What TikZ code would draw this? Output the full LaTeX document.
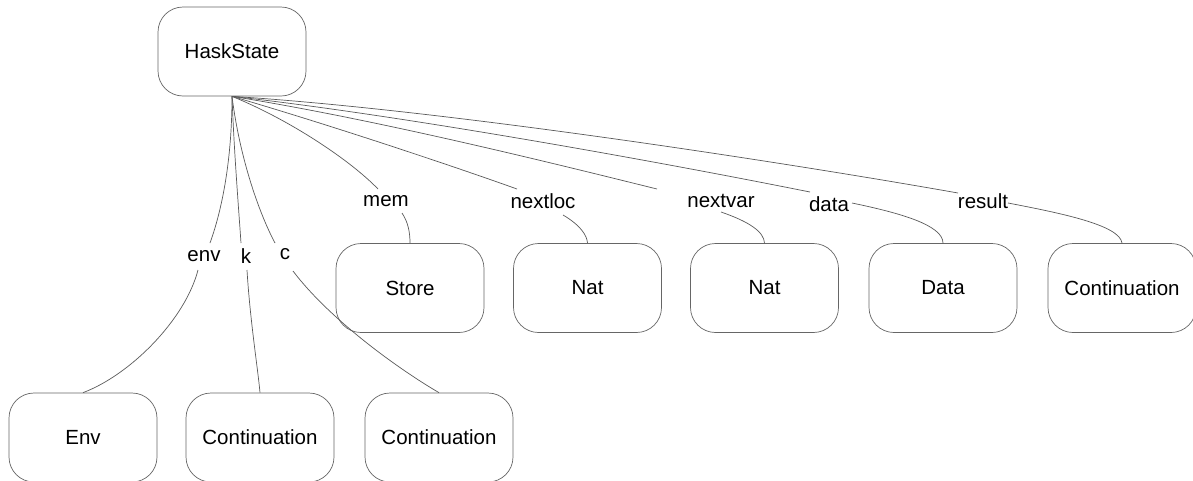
\documentclass[tikz,border=0pt]{standalone}
\usepackage{fontspec}
\setmainfont{Liberation Sans}
\begin{document}
\begin{tikzpicture}[x=1pt,y=-1pt,
  box/.style={draw=black!60, line width=0.7pt, rounded corners=25pt, minimum width=148pt, minimum height=89pt, inner sep=0pt, font=\fontsize{20.5}{24}\selectfont},
  lbl/.style={inner sep=0pt, font=\fontsize{20.5}{24}\selectfont},
  edge/.style={draw=black!65, line width=0.7pt}]
\useasboundingbox (0,0) rectangle (1193,480);
\node[box] (hs) at (232,51.5) {HaskState};
\node[box] (store) at (410,288) {Store};
\node[box] (nat1) at (587.5,288) {Nat};
\node[box] (nat2) at (764.5,288) {Nat};
\node[box] (data) at (943,288) {Data};
\node[box] (cont0) at (1122,288) {Continuation};
\node[box] (env) at (83,437.5) {Env};
\node[box] (cont1) at (260,437.5) {Continuation};
\node[box] (cont2) at (439,437.5) {Continuation};
\node[lbl] (lenv) at (204,256) {env};
\node[lbl] (lk) at (246,256) {k};
\node[lbl] (lc) at (285,254) {c};
\node[lbl] (lmem) at (386,201) {mem};
\node[lbl] (lnl) at (543,201) {nextloc};
\node[lbl] (lnv) at (721,201) {nextvar};
\node[lbl] (ldata) at (829,204) {data};
\node[lbl] (lres) at (983,201) {result};
\coordinate (e1) at (210,243); \coordinate (e2) at (198,270);
\coordinate (k1) at (241,243); \coordinate (k2) at (247,270);
\coordinate (c1) at (275,243); \coordinate (c2) at (293,271);
\coordinate (m1) at (378,189); \coordinate (m2) at (402,213);
\coordinate (n1) at (517,189); \coordinate (n2) at (563,215);
\coordinate (v1) at (657,189); \coordinate (v2) at (721,212);
\coordinate (d1) at (810,192); \coordinate (d2) at (852,203);
\coordinate (r1) at (958,193); \coordinate (r2) at (1008,203);
\path[edge] (hs.south) .. controls (232,160) and (222,210) .. (e1)
  (e2) .. controls (185,320) and (130,375) .. (env.north);
\path[edge] (hs.south) .. controls (234,150) and (238,200) .. (k1)
  (k2) .. controls (250,320) and (258,370) .. (cont1.north);
\path[edge] (hs.south) .. controls (240,160) and (260,215) .. (c1)
  (c2) .. controls (330,320) and (400,370) .. (cont2.north);
\path[edge] (hs.south) .. controls (290,120) and (350,160) .. (m1)
  (m2) .. controls (408,222) and (410,232) .. (store.north);
\path[edge] (hs.south) .. controls (330,125) and (450,165) .. (n1)
  (n2) .. controls (580,225) and (587,235) .. (nat1.north);
\path[edge] (hs.south) .. controls (380,120) and (560,165) .. (v1)
  (v2) .. controls (750,222) and (764,232) .. (nat2.north);
\path[edge] (hs.south) .. controls (400,115) and (650,160) .. (d1)
  (d2) .. controls (900,213) and (943,225) .. (data.north);
\path[edge] (hs.south) .. controls (450,110) and (800,165) .. (r1)
  (r2) .. controls (1060,213) and (1120,225) .. (cont0.north);
\end{tikzpicture}
\end{document}
